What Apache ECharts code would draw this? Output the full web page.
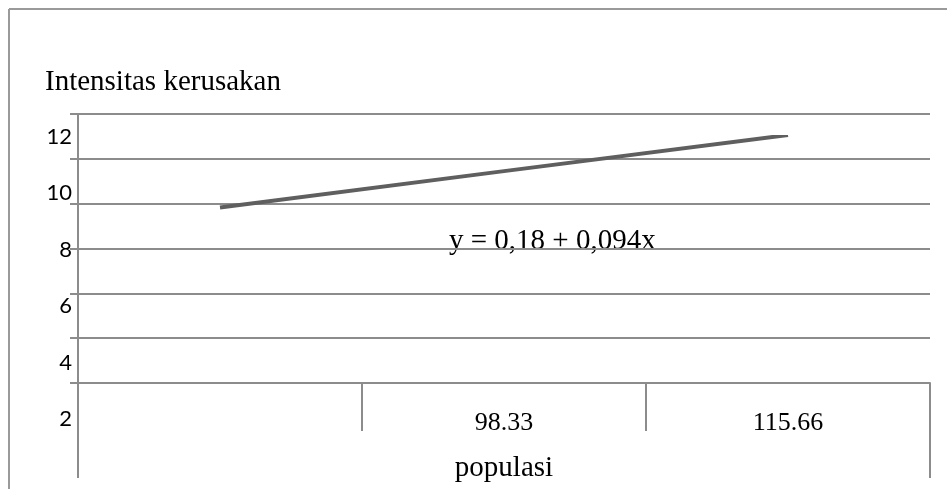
<!DOCTYPE html>
<html>
<head>
<meta charset="utf-8">
<script src="https://cdn.jsdelivr.net/npm/echarts@6/dist/echarts.min.js"></script>
<style>
  html, body { margin: 0; padding: 0; background: #fff; }
  #chart { width: 947px; height: 489px; }
</style>
</head>
<body>
<div id="chart"></div>
<script>
// data
const categories = ['', '98.33', '115.66'];
const intensitas = [9.5, 10.79, 12.07];
const yTicks = [2, 4, 6, 8, 10, 12];
const equation = 'y = 0,18 + 0,094x';

const gray = '#8c8c8c';
const serif = '"Liberation Serif", "Times New Roman", serif';

const chartDom = document.getElementById('chart');
const myChart = echarts.init(chartDom, null, { renderer: 'canvas' });

const option = {
  animation: false,
  title: {
    text: 'Intensitas kerusakan',
    left: 45,
    top: 68,
    padding: 0,
    textStyle: { fontFamily: serif, fontSize: 29, fontWeight: 'normal', color: '#000' }
  },
  grid: [
    // grid with the gridlines and the category axis
    { left: 78, right: 17, top: 114, bottom: 106 },
    // grid that only carries the y labels and the line
    { left: 78, right: 17, top: 137, bottom: 70 }
  ],
  xAxis: [
    {
      type: 'category',
      gridIndex: 0,
      data: categories,
      boundaryGap: true,
      axisLine: { lineStyle: { color: gray, width: 2 } },
      axisTick: { show: true, length: 48, lineStyle: { color: gray, width: 2 } },
      axisLabel: {
        fontFamily: serif, fontSize: 26, color: '#000',
        margin: 40, verticalAlign: 'middle'
      },
      name: 'populasi',
      nameLocation: 'middle',
      nameGap: 85,
      nameTextStyle: { fontFamily: serif, fontSize: 29, color: '#000', verticalAlign: 'middle' }
    },
    {
      type: 'category',
      gridIndex: 1,
      data: categories,
      boundaryGap: true,
      show: false
    }
  ],
  yAxis: [
    {
      type: 'value',
      gridIndex: 0,
      min: 0, max: 6, interval: 1,
      axisLine: { show: true, lineStyle: { color: gray, width: 2 } },
      axisTick: { show: true, length: 8, lineStyle: { color: gray, width: 2 } },
      axisLabel: { show: false },
      splitLine: { show: true, lineStyle: { color: gray, width: 2 } }
    },
    {
      type: 'value',
      gridIndex: 1,
      min: yTicks[0], max: yTicks[yTicks.length - 1], interval: 2,
      axisLine: { show: false },
      axisTick: { show: false },
      splitLine: { show: false },
      axisLabel: { fontFamily: 'Lato, "Open Sans", sans-serif', fontSize: 22, color: '#000', margin: 6 }
    }
  ],
  series: [
    {
      type: 'line',
      xAxisIndex: 1,
      yAxisIndex: 1,
      data: intensitas,
      showSymbol: false,
      symbol: 'none',
      lineStyle: { color: '#5f5f5f', width: 4, cap: 'butt' }
    }
  ],
  graphic: [
    // outer frame (top and left)
    { type: 'line', shape: { x1: 9, y1: 9, x2: 947, y2: 9 }, style: { stroke: '#9a9a9a', lineWidth: 2 } },
    { type: 'line', shape: { x1: 9, y1: 9, x2: 9, y2: 489 }, style: { stroke: '#9a9a9a', lineWidth: 2 } },
    // axis lines running below the category row
    { type: 'line', shape: { x1: 78, y1: 383, x2: 78, y2: 478 }, style: { stroke: gray, lineWidth: 2 } },
    { type: 'line', shape: { x1: 930, y1: 383, x2: 930, y2: 478 }, style: { stroke: gray, lineWidth: 2 } },
    {
      type: 'text',
      left: 449,
      top: 227,
      style: { text: equation, font: '29px ' + serif, fill: '#000' }
    }
  ]
};

myChart.setOption(option);
</script>
</body>
</html>
